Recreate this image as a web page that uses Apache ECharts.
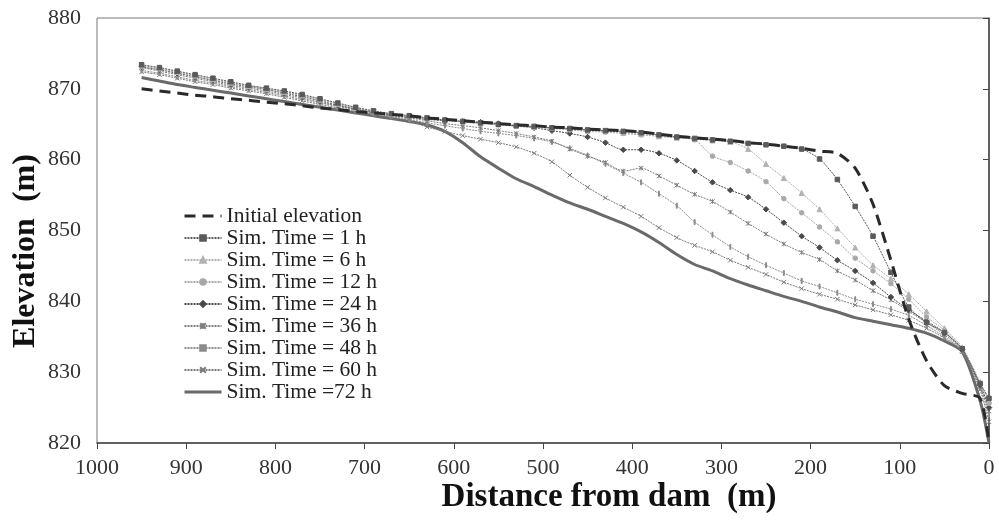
<!DOCTYPE html>
<html>
<head>
<meta charset="utf-8">
<script src="https://cdn.jsdelivr.net/npm/echarts@6/dist/echarts.min.js"></script>
<style>
  html, body { margin: 0; padding: 0; background: #fff; }
  #main { width: 999px; height: 523px; }
</style>
</head>
<body>
<div id="main"></div>
<script>
// distance from dam (m), shared by every profile
var dist = [950, 930, 910, 890, 870, 850, 830, 810, 790, 770, 750, 730, 710, 690, 670, 650,
  630, 610, 590, 570, 550, 530, 510, 490, 470, 450, 430, 410, 390, 370, 350, 330, 310,
  290, 270, 250, 230, 210, 190, 170, 150, 130, 110, 90, 70, 50, 30, 10, 0];

// bed elevation (m) per simulation time
var elevInit = [870.0, 869.7, 869.4, 869.1, 868.9, 868.6, 868.4, 868.1, 867.9, 867.6, 867.3, 867.1, 866.8, 866.6, 866.4, 866.2,
  865.9, 865.7, 865.5, 865.3, 865.1, 864.9, 864.8, 864.6, 864.5, 864.3, 864.2, 864.1, 863.9, 863.6, 863.3, 863.1, 862.9,
  862.7, 862.4, 862.2, 861.9, 861.6, 861.2, 860.9, 858.8, 853.7, 845.8, 837.5, 831.6, 828.1, 827.0, 826.3, 820.0];
var elev1h = [873.4, 873.0, 872.5, 872.0, 871.5, 871.0, 870.5, 870.1, 869.7, 869.2, 868.6, 868.0, 867.4, 866.9, 866.5, 866.2,
  865.9, 865.6, 865.4, 865.2, 865.0, 864.8, 864.7, 864.5, 864.4, 864.2, 864.1, 864.0, 863.8, 863.5, 863.2, 863.0, 862.8,
  862.6, 862.3, 862.1, 861.9, 861.5, 860.1, 857.2, 853.4, 849.2, 844.1, 839.2, 837.0, 835.6, 833.3, 828.4, 826.3];
var elev6h = [873.3, 872.9, 872.4, 871.9, 871.4, 870.9, 870.4, 870.0, 869.6, 869.1, 868.5, 867.9, 867.3, 866.8, 866.4, 866.1,
  865.8, 865.6, 865.4, 865.2, 865.0, 864.8, 864.6, 864.5, 864.3, 864.1, 864.0, 863.8, 863.6, 863.3, 863.1, 862.9, 862.7,
  862.5, 861.5, 859.4, 857.4, 855.3, 853.0, 850.3, 847.6, 845.1, 843.2, 841.0, 838.6, 836.2, 833.5, 828.6, 826.0];
var elev12h = [873.2, 872.8, 872.3, 871.8, 871.3, 870.8, 870.4, 870.0, 869.5, 869.0, 868.4, 867.8, 867.3, 866.8, 866.4, 866.1,
  865.8, 865.6, 865.3, 865.1, 864.9, 864.7, 864.5, 864.4, 864.2, 864.0, 863.9, 863.7, 863.5, 863.3, 863.1, 862.8, 860.5,
  859.6, 858.4, 856.9, 854.5, 852.5, 850.5, 848.4, 846.1, 844.3, 842.5, 840.3, 837.8, 835.9, 833.3, 828.4, 825.6];
var elev24h = [873.1, 872.7, 872.2, 871.7, 871.2, 870.7, 870.3, 869.9, 869.4, 868.9, 868.3, 867.7, 867.2, 866.7, 866.3, 866.0,
  865.7, 865.5, 865.4, 865.3, 865.1, 864.8, 864.5, 864.1, 863.7, 863.2, 862.4, 861.4, 861.4, 860.9, 859.9, 858.4, 856.8,
  855.7, 854.7, 853.0, 851.1, 849.2, 847.6, 845.8, 844.3, 842.6, 840.6, 838.8, 837.2, 835.6, 833.2, 828.2, 825.0];
var elev36h = [873.0, 872.5, 872.0, 871.5, 871.0, 870.5, 870.1, 869.7, 869.2, 868.7, 868.1, 867.6, 867.1, 866.6, 866.2, 865.9,
  865.5, 865.1, 864.8, 864.5, 864.1, 863.7, 863.2, 862.6, 861.5, 860.5, 859.6, 858.4, 858.8, 857.7, 856.4, 855.1, 854.1,
  852.6, 851.0, 849.5, 848.1, 846.9, 845.9, 844.3, 843.0, 841.5, 840.2, 838.6, 837.0, 835.3, 833.1, 828.0, 824.5];
var elev48h = [872.6, 872.2, 871.7, 871.2, 870.8, 870.3, 869.9, 869.5, 869.0, 868.5, 868.0, 867.5, 867.0, 866.5, 866.1, 865.7,
  865.2, 864.8, 864.4, 864.0, 863.7, 863.4, 863.0, 862.5, 861.6, 860.6, 859.4, 858.1, 856.8, 855.2, 853.5, 851.2, 849.4,
  847.7, 846.3, 845.1, 844.0, 842.9, 842.1, 841.2, 840.3, 839.6, 838.9, 838.0, 836.6, 835.0, 833.0, 827.8, 824.0];
var elev60h = [872.4, 872.0, 871.5, 871.0, 870.6, 870.1, 869.7, 869.3, 868.8, 868.3, 867.8, 867.3, 866.8, 866.4, 866.0, 865.5,
  864.6, 864.0, 863.4, 862.9, 862.4, 861.8, 860.9, 859.7, 857.8, 856.1, 854.6, 853.3, 852.0, 850.4, 849.0, 847.9, 847.0,
  845.8, 844.8, 843.8, 842.7, 841.8, 841.0, 840.3, 839.5, 838.8, 838.1, 837.3, 836.2, 834.8, 832.9, 827.5, 823.0];
var elev72h = [871.6, 871.1, 870.6, 870.2, 869.8, 869.4, 869.0, 868.6, 868.2, 867.8, 867.4, 867.0, 866.6, 866.2, 865.8, 865.4,
  864.9, 864.0, 862.4, 860.4, 858.8, 857.3, 856.2, 855.0, 853.9, 853.0, 852.0, 851.0, 849.8, 848.3, 846.6, 845.2, 844.3,
  843.2, 842.3, 841.5, 840.7, 840.0, 839.2, 838.5, 837.7, 837.2, 836.7, 836.2, 835.5, 834.4, 832.9, 826.0, 820.0];

var legendNames = ['Initial elevation', 'Sim. Time = 1 h', 'Sim. Time = 6 h', 'Sim. Time = 12 h',
  'Sim. Time = 24 h', 'Sim. Time = 36 h', 'Sim. Time = 48 h', 'Sim. Time = 60 h', 'Sim. Time =72 h'];
var xTicks = [0, 100, 200, 300, 400, 500, 600, 700, 800, 900, 1000];
var yTicks = [820, 830, 840, 850, 860, 870, 880];

var serif = '"Liberation Serif", "Times New Roman", serif';

function pairs(vals) {
  return dist.map(function (d, i) { return [d, vals[i]]; });
}

// marker series: thin dotted line with a small symbol
function simSeries(name, vals, color, symbol, size) {
  return {
    name: name,
    type: 'line',
    data: pairs(vals),
    smooth: 0.25,
    symbol: symbol,
    symbolSize: size,
    symbolKeepAspect: true,
    itemStyle: { color: color, borderColor: color, borderWidth: 1 },
    lineStyle: { color: color, width: 1, type: [2, 1] },
    z: 3
  };
}

// outline-only markers (×, asterisk) and a thin bar
var crossPath = 'path://M0,0L10,10M10,0L0,10';
var starPath = 'path://M0,0L10,10M10,0L0,10M5,0L5,10';
var barPath = 'path://M0,0h2v10h-2Z';

// legend entries; the two plain lines get no symbol and a thick stroke
var legendData = legendNames.map(function (n, i) {
  if (i === 0) return { name: n, itemStyle: { opacity: 0 }, lineStyle: { width: 3, type: [11, 7] } };
  if (i === 8) return { name: n, itemStyle: { opacity: 0 }, lineStyle: { width: 3 } };
  return { name: n };
});

var chart = echarts.init(document.getElementById('main'));
chart.setOption({
  animation: false,
  backgroundColor: '#fff',
  grid: { left: 97, right: 10, top: 18, bottom: 80, show: true, borderColor: '#777', borderWidth: 1 },
  legend: {
    data: legendData,
    orient: 'vertical',
    left: 178,
    top: 200,
    itemWidth: 37,
    itemHeight: 7,
    itemGap: 0,
    textStyle: { fontFamily: serif, fontSize: 21.5, lineHeight: 21.7, color: '#222' }
  },
  xAxis: {
    type: 'value',
    inverse: true,
    min: 0,
    max: 1000,
    interval: 100,
    axisLine: { lineStyle: { color: '#444', width: 1.5 } },
    axisTick: { length: 6, lineStyle: { color: '#444' } },
    axisLabel: {
      margin: 14,
      fontFamily: serif,
      fontSize: 22,
      color: '#333',
      formatter: function (v) { return xTicks.indexOf(v) >= 0 ? String(v) : ''; }
    },
    splitLine: { show: false }
  },
  yAxis: {
    type: 'value',
    min: 820,
    max: 880,
    interval: 10,
    axisLine: { show: true, lineStyle: { color: '#444', width: 1.5 } },
    axisTick: { show: true, length: 6, lineStyle: { color: '#444' } },
    axisLabel: {
      margin: 16,
      fontFamily: serif,
      fontSize: 22,
      color: '#333',
      formatter: function (v) { return yTicks.indexOf(v) >= 0 ? String(v) : ''; }
    },
    splitLine: { show: false }
  },
  graphic: [
    {
      type: 'text', x: 26, y: 251, rotation: Math.PI / 2,
      style: { text: 'Elevation  (m)', font: 'bold 32px ' + serif, fill: '#111', align: 'center', verticalAlign: 'middle' }
    },
    {
      type: 'text', x: 609, y: 497,
      style: { text: 'Distance from dam  (m)', font: 'bold 33px ' + serif, fill: '#111', align: 'center', verticalAlign: 'middle' }
    }
  ],
  series: [
    {
      name: legendNames[8], type: 'line', data: pairs(elev72h), smooth: 0.25, symbol: 'none',
      lineStyle: { color: '#6a6a6a', width: 3 }, itemStyle: { color: '#6a6a6a' }, z: 2
    },
    simSeries(legendNames[7], elev60h, '#7a7a7a', crossPath, 4.5),
    simSeries(legendNames[6], elev48h, '#8c8c8c', barPath, 5),
    simSeries(legendNames[5], elev36h, '#7e7e7e', starPath, 4.5),
    simSeries(legendNames[4], elev24h, '#4a4a4a', 'diamond', 5.5),
    simSeries(legendNames[3], elev12h, '#a8a8a8', 'circle', 4.5),
    simSeries(legendNames[2], elev6h, '#b2b2b2', 'triangle', 5),
    simSeries(legendNames[1], elev1h, '#5a5a5a', 'rect', 4.5),
    {
      name: legendNames[0], type: 'line', data: pairs(elevInit), smooth: 0.25, symbol: 'none',
      lineStyle: { color: '#2a2a2a', width: 3, type: [11, 7] }, itemStyle: { color: '#2a2a2a' }, z: 4
    }
  ]
});
</script>
</body>
</html>
